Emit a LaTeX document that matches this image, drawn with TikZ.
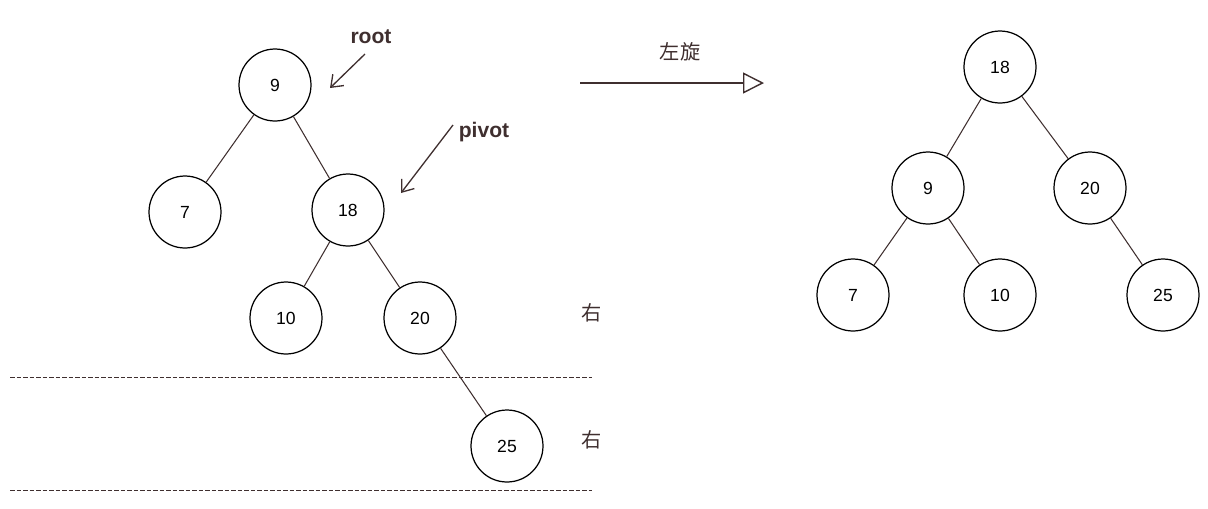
\documentclass[tikz,border=0pt]{standalone}
\usepackage{fontspec}
\setmainfont{Liberation Sans}
\newfontfamily\cjk{Noto Sans CJK SC}
\usepackage{xcolor}
\usetikzlibrary{positioning,arrows.meta}
\definecolor{ink}{HTML}{3F2F2F}

\begin{document}
\begin{tikzpicture}[
  x=0.02cm, y=-0.02cm,
  nd/.style={circle, draw=black, line width=0.7pt, minimum size=1.44cm, inner sep=0pt, font=\fontsize{10}{12}\selectfont},
  edge/.style={draw=ink, line width=0.6pt},
  pointer/.style={-{Straight Barb[length=6pt, width=9pt]}, draw=ink, line width=0.75pt},
  tag/.style={font=\fontsize{12}{14}\selectfont\bfseries, text=ink},
  hanzi/.style={font=\cjk\fontsize{11.5}{13}\selectfont, text=ink},
  cut/.style={draw=ink, dashed, dash pattern=on 2.6pt off 1.1pt, line width=0.5pt}
]
\useasboundingbox (0,0) rectangle (1208,508);

% Before rotation
\node[nd] (a9) at (275,85) {9};
\node[nd] (a7) at (185,212) {7};
\node[nd] (a18) at (348,210) {18};
\node[nd] (a10) at (286,318) {10};
\node[nd] (a20) at (420,318) {20};
\node[nd] (a25) at (507,446) {25};

\draw[edge] (a9) -- (a7);
\draw[edge] (a9) -- (a18);
\draw[edge] (a18) -- (a10);
\draw[edge] (a18) -- (a20);
\draw[edge] (a20) -- (a25);

% Pointers
\node[tag] (root) at (371,37) {root};
\coordinate (rootstart) at (365,54);
\coordinate (rootend) at (330,88);
\draw[pointer] (rootstart) -- (rootend);
\node[tag] (pivot) at (484,132) {pivot};
\coordinate (pivotstart) at (453,125);
\coordinate (pivotend) at (401,193);
\draw[pointer] (pivotstart) -- (pivotend);

% Level guides
\coordinate (l1a) at (10,377);
\coordinate (l1b) at (592,377);
\coordinate (l2a) at (10,490);
\coordinate (l2b) at (592,490);
\draw[cut] (l1a) -- (l1b);
\draw[cut] (l2a) -- (l2b);
\node[hanzi] (r1) at (592,313) {右};
\node[hanzi] (r2) at (592,440) {右};

% Rotation arrow
\coordinate (rotA) at (580,83);
\coordinate (rotB) at (764,83);
\draw[draw=ink, line width=0.8pt, -{Triangle[open, length=0.42cm, width=0.42cm, fill=white]}] (rotA) -- (rotB);
\node[hanzi] (rot) at (680,52) {左旋};

% After rotation
\node[nd] (b18) at (1000,67) {18};
\node[nd] (b9) at (928,188) {9};
\node[nd] (b20) at (1090,188) {20};
\node[nd] (b7) at (853,295) {7};
\node[nd] (b10) at (1000,295) {10};
\node[nd] (b25) at (1163,295) {25};

\draw[edge] (b18) -- (b9);
\draw[edge] (b18) -- (b20);
\draw[edge] (b9) -- (b7);
\draw[edge] (b9) -- (b10);
\draw[edge] (b20) -- (b25);

\end{tikzpicture}
\end{document}
